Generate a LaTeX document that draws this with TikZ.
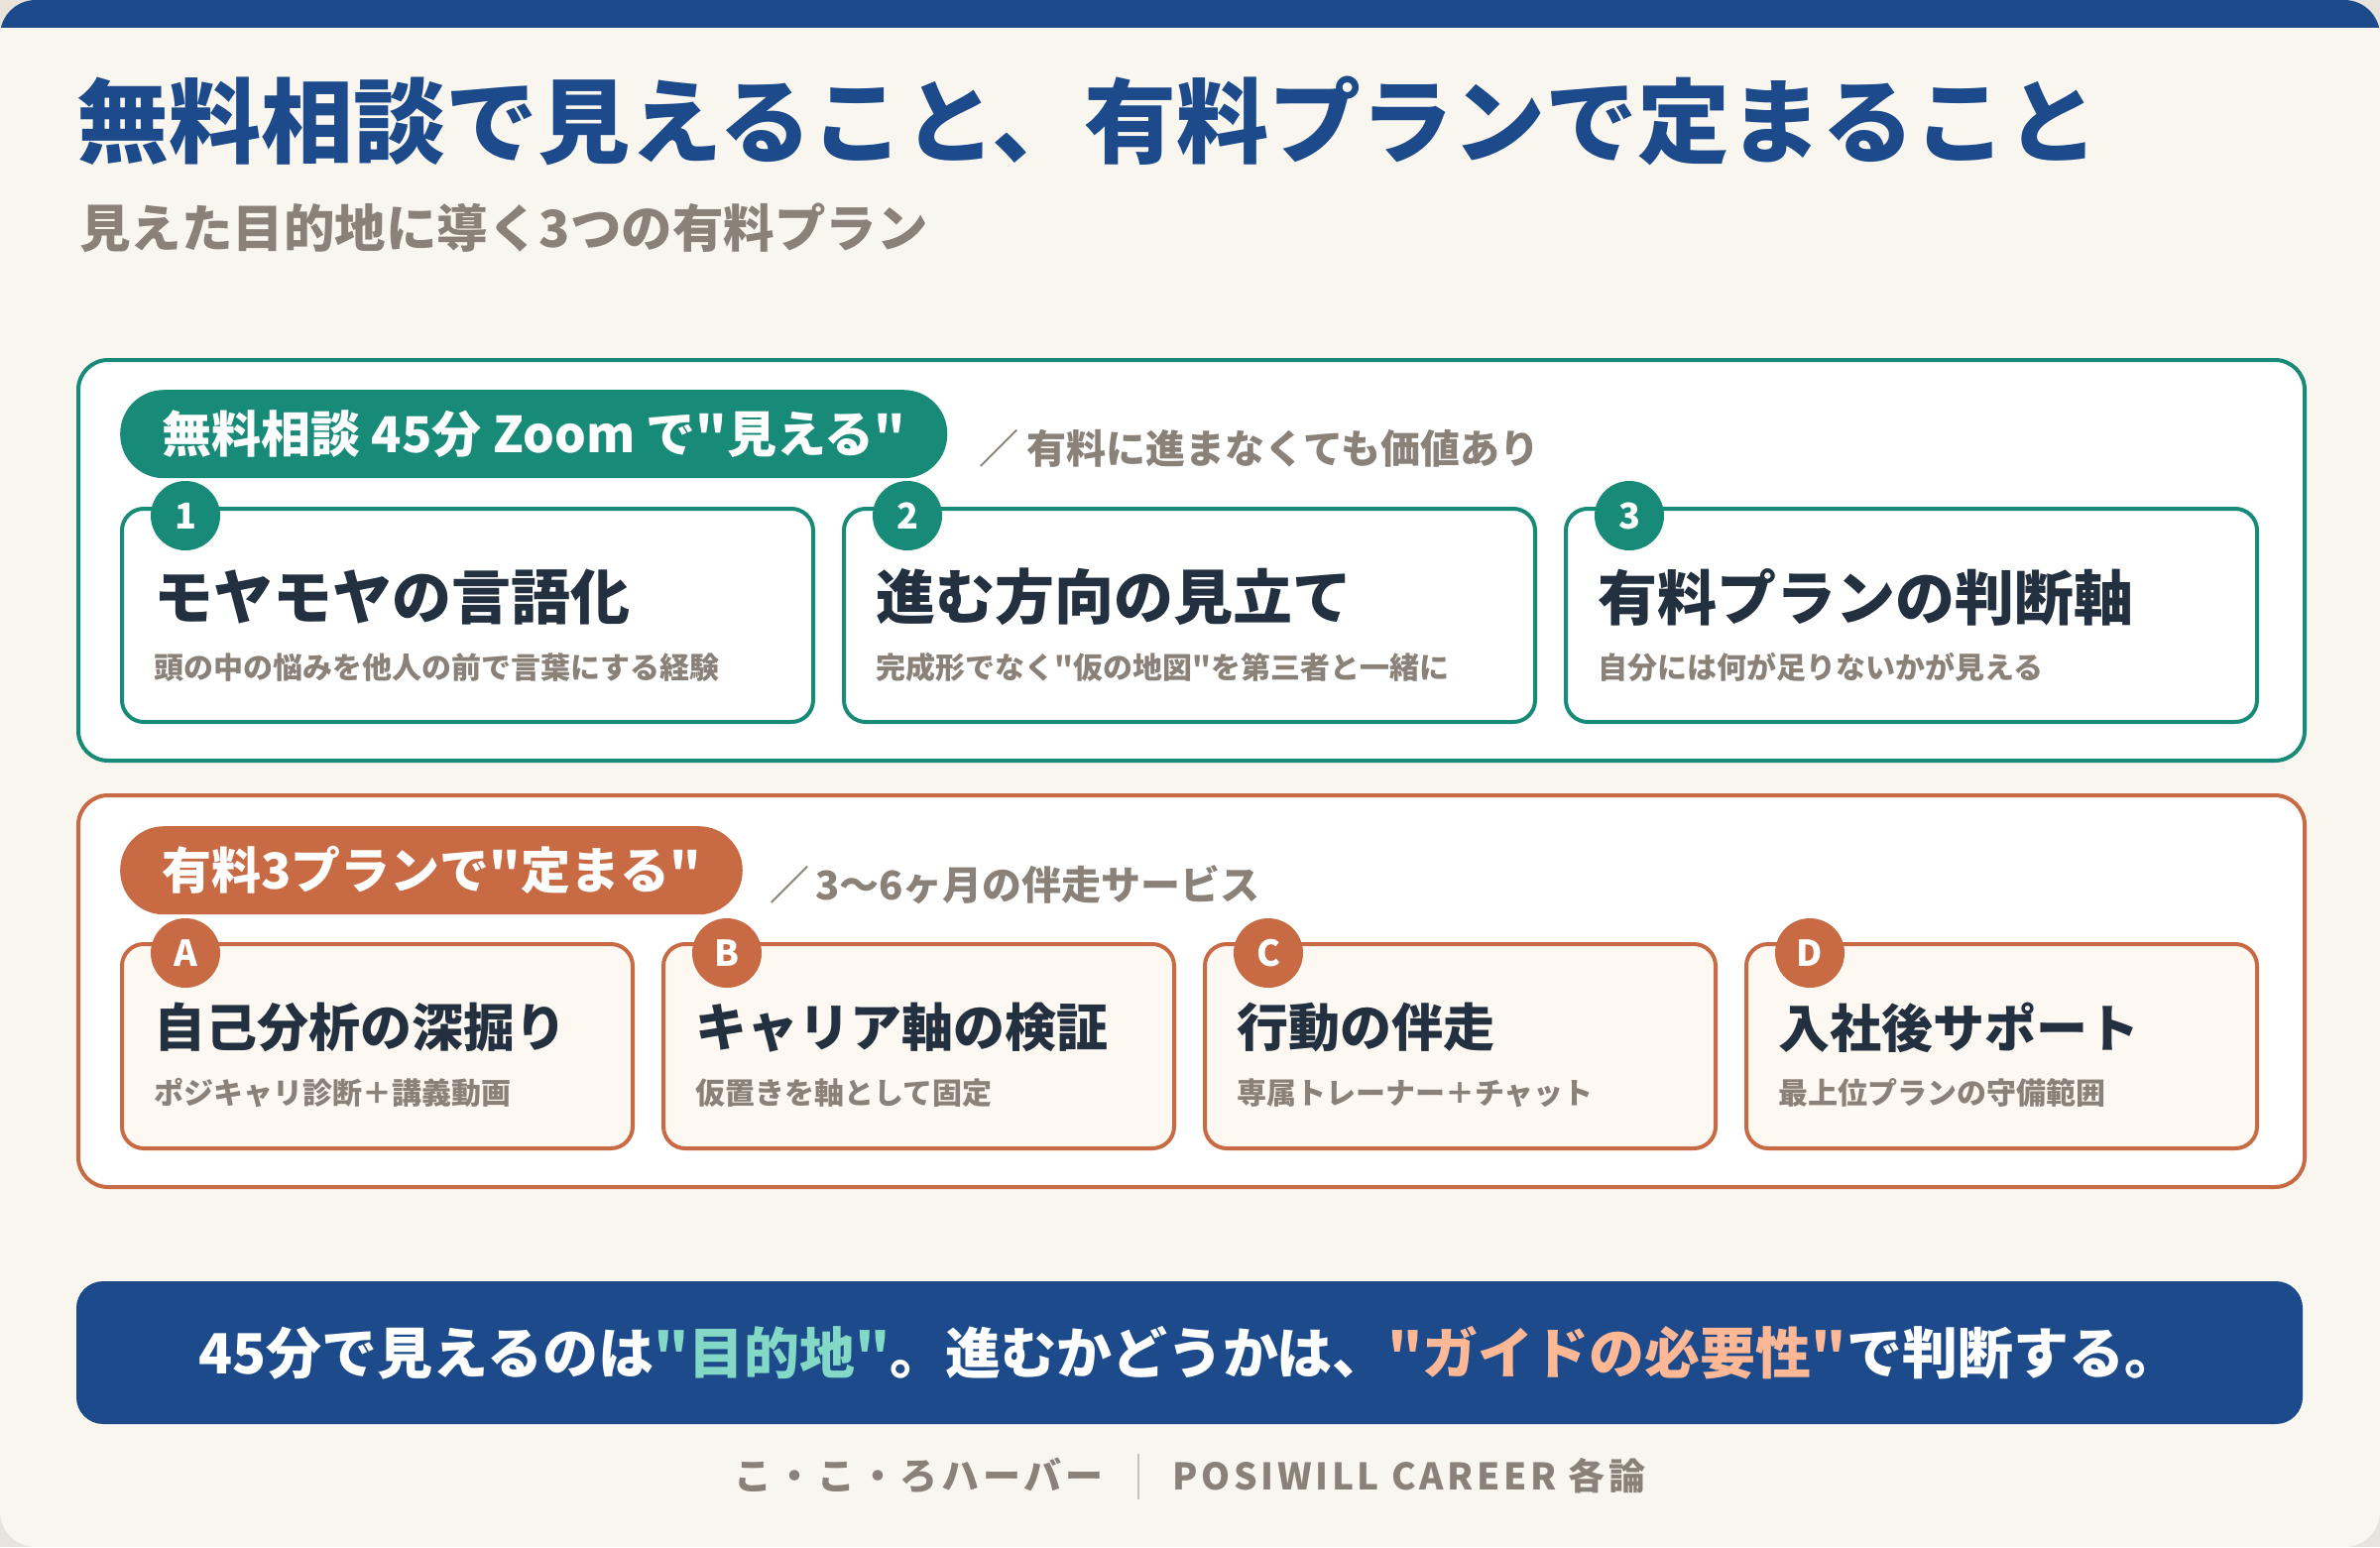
\documentclass[tikz,border=0pt]{standalone}
\usepackage{fontspec}
\setmainfont{Noto Sans CJK JP}
\newfontfamily\jpfont{Noto Sans CJK JP}
\newfontfamily\heavyfont{Noto Sans CJK JP Black}
\newfontfamily\spacedfont{Noto Sans CJK JP}[LetterSpace=10]
\usetikzlibrary{positioning,calc}
\definecolor{navyc}{HTML}{1C4A8A}
\definecolor{tealc}{HTML}{178A78}
\definecolor{rustc}{HTML}{C86B45}
\definecolor{inkc}{HTML}{22303F}
\definecolor{mutec}{HTML}{8A8279}
\definecolor{creamc}{HTML}{F9F6F0}
\definecolor{edgec}{HTML}{E8E4DC}
\definecolor{blushc}{HTML}{FEF8F3}
\definecolor{mintc}{HTML}{84D9C6}
\definecolor{peachc}{HTML}{FFB896}
\newcommand\dq{\char34\relax}
\tikzset{
  ttl/.style={anchor=west,inner sep=0pt,text=navyc,font=\heavyfont\fontsize{93}{100}\selectfont},
  subttl/.style={anchor=west,inner sep=0pt,text=mutec,font=\jpfont\bfseries\fontsize{51.5}{58}\selectfont},
  panel/.style={draw,line width=4pt,fill=white,rounded corners=30pt,anchor=north west,
    minimum width=2245pt,inner sep=0pt},
  pill/.style={rounded corners=44pt,minimum height=89pt,inner xsep=42pt,inner ysep=0pt,
    anchor=north west,text=white,font=\heavyfont\fontsize{50}{56}\selectfont},
  note/.style={anchor=west,inner sep=0pt,text=mutec,font=\jpfont\bfseries\fontsize{40}{46}\selectfont},
  card/.style={draw,line width=4pt,rounded corners=22pt,inner sep=0pt},
  badge/.style={circle,minimum size=70pt,inner sep=0pt,text=white,font=\heavyfont\fontsize{36}{40}\selectfont},
  cttl/.style={anchor=west,inner sep=0pt,text=inkc,font=\heavyfont\fontsize{60}{66}\selectfont},
  cttlb/.style={cttl,font=\heavyfont\fontsize{52}{58}\selectfont},
  csub/.style={anchor=west,inner sep=0pt,text=mutec,font=\jpfont\bfseries\fontsize{30}{34}\selectfont},
  banner/.style={fill=navyc,rounded corners=27pt,minimum width=2245pt,minimum height=144pt,
    inner sep=0pt,text=white,font=\heavyfont\fontsize{56}{60}\selectfont},
  foot/.style={inner sep=0pt,text=mutec,font=\spacedfont\bfseries\fontsize{38}{42}\selectfont}
}
\begin{document}
\begin{tikzpicture}[x=1pt,y=-1pt]
  \useasboundingbox (0,0) rectangle (2400,1560);
  % page and top bar
  \fill[edgec] (0,0) rectangle (2400,1560);
  \begin{scope}
    \clip[rounded corners=36pt] (0,0) rectangle (2400,1560);
    \fill[creamc] (0,0) rectangle (2400,1560);
    \fill[navyc] (0,0) rectangle (2400,28);
  \end{scope}

  \node[ttl] (title) at (77,122) {無料相談で見えること、有料プランで定まること};
  \node[subttl] (subtitle) at (80,230) {見えた目的地に導く3つの有料プラン};

  % free consultation
  \node[panel,draw=tealc,minimum height=404pt] (free) at (77,361) {};
  \node[pill,fill=tealc] (freetag) at (121,393) {無料相談 45分 Zoom で\dq 見える\dq};
  \node[note] (freenote) at (987,452) {／\hspace{8pt}有料に進まなくても価値あり};

  \node[card,draw=tealc,fill=white,minimum width=697pt,minimum height=215pt,anchor=north west] (m1) at (121,511) {};
  \node[card,draw=tealc,fill=white,minimum width=697pt,minimum height=215pt,right=27pt of m1] (m2) {};
  \node[card,draw=tealc,fill=white,minimum width=697pt,minimum height=215pt,right=27pt of m2] (m3) {};

  \node[badge,fill=tealc] (n1) at ($(m1.north west)+(66,9)$) {1};
  \node[badge,fill=tealc] (n2) at ($(m2.north west)+(66,9)$) {2};
  \node[badge,fill=tealc] (n3) at ($(m3.north west)+(66,9)$) {3};

  \node[cttl] (t1) at ($(m1.north west)+(34,91)$) {モヤモヤの言語化};
  \node[cttl] (t2) at ($(m2.north west)+(34,91)$) {進む方向の見立て};
  \node[cttl] (t3) at ($(m3.north west)+(34,91)$) {有料プランの判断軸};
  \node[csub] (s1) at ($(m1.north west)+(34,162)$) {頭の中の悩みを他人の前で言葉にする経験};
  \node[csub] (s2) at ($(m2.north west)+(34,162)$) {完成形でなく\dq 仮の地図\dq を第三者と一緒に};
  \node[csub] (s3) at ($(m3.north west)+(34,162)$) {自分には何が足りないかが見える};

  % paid plans
  \node[panel,draw=rustc,minimum height=395pt] (paid) at (77,800) {};
  \node[pill,fill=rustc] (paidtag) at (121,833) {有料3プランで\dq 定まる\dq};
  \node[note] (paidnote) at (776,892) {／\hspace{6pt}3〜6ヶ月の伴走サービス};

  \node[card,draw=rustc,fill=blushc,minimum width=515pt,minimum height=206pt,anchor=north west] (pa) at (121,950) {};
  \node[card,draw=rustc,fill=blushc,minimum width=515pt,minimum height=206pt,right=27pt of pa] (pb) {};
  \node[card,draw=rustc,fill=blushc,minimum width=515pt,minimum height=206pt,right=27pt of pb] (pc) {};
  \node[card,draw=rustc,fill=blushc,minimum width=515pt,minimum height=206pt,right=27pt of pc] (pd) {};

  \node[badge,fill=rustc] (la) at ($(pa.north west)+(66,11)$) {A};
  \node[badge,fill=rustc] (lb) at ($(pb.north west)+(66,11)$) {B};
  \node[badge,fill=rustc] (lc) at ($(pc.north west)+(66,11)$) {C};
  \node[badge,fill=rustc] (ld) at ($(pd.north west)+(66,11)$) {D};

  \node[cttlb] (ta) at ($(pa.north west)+(34,86)$) {自己分析の深掘り};
  \node[cttlb] (tb) at ($(pb.north west)+(34,86)$) {キャリア軸の検証};
  \node[cttlb] (tc) at ($(pc.north west)+(34,86)$) {行動の伴走};
  \node[cttlb] (td) at ($(pd.north west)+(34,86)$) {入社後サポート};
  \node[csub] (sa) at ($(pa.north west)+(34,152)$) {ポジキャリ診断＋講義動画};
  \node[csub] (sb) at ($(pb.north west)+(34,152)$) {仮置きを軸として固定};
  \node[csub] (sc) at ($(pc.north west)+(34,152)$) {専属トレーナー＋チャット};
  \node[csub] (sd) at ($(pd.north west)+(34,152)$) {最上位プランの守備範囲};

  % message
  \node[banner] (msg) at (1199.5,1364) {45分で見えるのは\textcolor{mintc}{\dq 目的地\dq}。進むかどうかは、\textcolor{peachc}{\dq ガイドの必要性\dq}で判断する。};

  % footer
  \node[foot,anchor=east] (brand) at (1113,1488) {こ・こ・ろハーバー};
  \node[foot,anchor=west,font=\spacedfont\bfseries\fontsize{37}{42}\selectfont] (series) at (1182,1488) {POSIWILL CAREER 各論};
  \coordinate (sepup) at (1148,1466);
  \coordinate (sepdn) at (1148,1512);
  \draw[mutec!50,line width=2pt] (sepup) -- (sepdn);
\end{tikzpicture}
\end{document}
